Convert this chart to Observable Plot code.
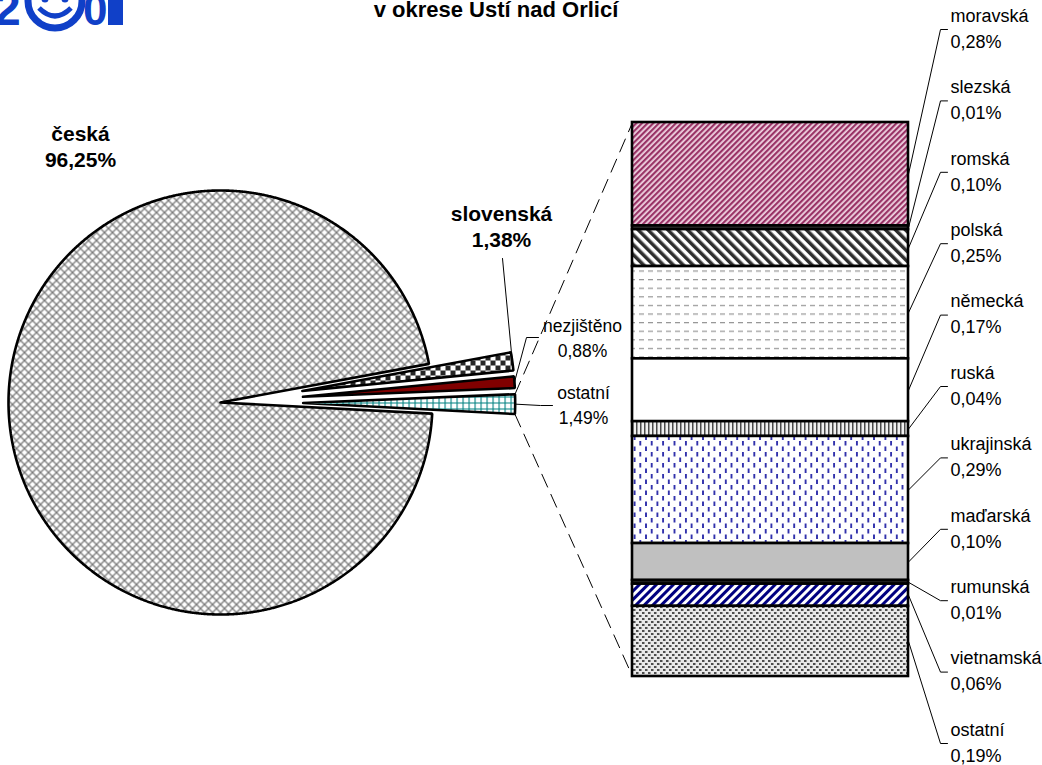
<!DOCTYPE html>
<html><head><meta charset="utf-8">
<script src="https://cdn.jsdelivr.net/npm/d3@7"></script>
<script src="https://cdn.jsdelivr.net/npm/@observablehq/plot@0.6"></script>
<style>
html,body{margin:0;padding:0;background:#fff;}
#wrap{position:relative;width:1042px;height:765px;overflow:hidden;font-family:"Liberation Sans",Arial,sans-serif;}
#title{position:absolute;left:246px;width:500px;top:-3px;text-align:center;font:bold 22px/25px "Liberation Sans",Arial,sans-serif;color:#000;}
#logo{position:absolute;left:0;top:0;}
#chart{position:absolute;left:0;top:0;}
</style></head>
<body>
<div id="wrap">
  <div id="chart"></div>
  <div id="title">v okrese Ústí nad Orlicí</div>
  <svg id="logo" width="130" height="34">
    <text x="-6" y="25" font-family="Liberation Sans" font-weight="bold" font-size="48" fill="#1040c8">2</text>
    <circle cx="55" cy="1" r="27" fill="#fff" stroke="#1040c8" stroke-width="7"/>
    <circle cx="45" cy="-1" r="3.5" fill="#1040c8"/>
    <circle cx="65" cy="-1" r="3.5" fill="#1040c8"/>
    <path d="M39,8 Q55,24 71,8" fill="none" stroke="#1040c8" stroke-width="5"/>
    <text x="83" y="25" font-family="Liberation Sans" font-weight="bold" font-size="44" fill="#1040c8">0</text>
    <rect x="108" y="0" width="15" height="25" fill="#1040c8"/>
  </svg>
</div>
<script>
// ---- data ----
const pieNames = ["česká", "slovenská", "nezjištěno", "ostatní"];
const pieValues = [96.25, 1.38, 0.88, 1.49];
const barNames = ["moravská", "slezská", "romská", "polská", "německá", "ruská", "ukrajinská", "maďarská", "rumunská", "vietnamská", "ostatní"];
const barValues = [0.28, 0.01, 0.10, 0.25, 0.17, 0.04, 0.29, 0.10, 0.01, 0.06, 0.19];

// ---- styles ----
const pieFills = ["url(#p-ceska)", "url(#p-slov)", "#800000", "url(#p-ostpie)"];
const barFills = ["url(#p-morav)", "#3a3a3a", "url(#p-roms)", "url(#p-pols)", "#ffffff", "url(#p-rus)", "url(#p-ukr)", "#c0c0c0", "#2a2a2a", "url(#p-viet)", "url(#p-ostbar)"];

// ---- layout (pixels -> units of pie radius) ----
const W = 1042, H = 765, CX = 220, CY = 402, R = 212;
const ux = px => (px - CX) / R, uy = py => (CY - py) / R;
const fmt = v => v.toFixed(2).replace(".", ",") + "%";

// pie geometry
const startA = 93 * Math.PI / 180, explode = 0.39;
const arcs = d3.pie().sort(null).startAngle(startA).endAngle(startA + 2 * Math.PI)(pieValues);
const slices = arcs.map((a, i) => {
  const mid = (a.startAngle + a.endAngle) / 2;
  const e = i === 0 ? 0 : explode;
  return {i, name: pieNames[i], value: pieValues[i], a0: a.startAngle, a1: a.endAngle, mid,
          ox: e * Math.sin(mid), oy: e * Math.cos(mid)};
});
const rim = (s, a) => ({x: s.ox + Math.sin(a), y: s.oy + Math.cos(a)});
function slicePoly(s) {
  const n = Math.max(4, Math.ceil((s.a1 - s.a0) / 0.004));
  const pts = [{x: s.ox, y: s.oy}];
  for (let k = 0; k <= n; k++) pts.push(rim(s, s.a0 + (s.a1 - s.a0) * k / n));
  pts.push({x: s.ox, y: s.oy});
  return pts;
}

// bar geometry
const barX1 = ux(632), barX2 = ux(908), barTop = uy(122), barBottom = uy(676);
const k = (barTop - barBottom) / d3.sum(barValues);
const cum = d3.cumsum(barValues);
const segs = barNames.map((name, i) => ({
  name, value: barValues[i], fill: barFills[i],
  y1: barTop - (cum[i] - barValues[i]) * k, y2: barTop - cum[i] * k
}));

// right labels: evenly spread
const firstY = 29, lastY = 743;
segs.forEach((d, i) => {
  d.cornerY = uy(firstY + i * (lastY - firstY) / (segs.length - 1));
  d.midY = (d.y1 + d.y2) / 2;
});
const leaderRows = segs.flatMap((d, i) => [
  {g: i, x: barX2, y: d.midY},
  {g: i, x: ux(940), y: d.cornerY},
  {g: i, x: ux(947), y: d.cornerY}
]);

// connectors from ostatní slice to bar
const ost = slices[3];
const ostTop = rim(ost, ost.a0), ostBot = rim(ost, ost.a1);
const connRows = [
  {g: 0, ...ostTop}, {g: 0, x: barX1, y: barTop},
  {g: 1, ...ostBot}, {g: 1, x: barX1, y: barBottom}
];

// pie labels
const pieLabelRows = [
  {text: pieNames[0] + "\n" + fmt(pieValues[0]), x: ux(80), y: uy(145), bold: true},
  {text: pieNames[1] + "\n" + fmt(pieValues[1]), x: ux(501), y: uy(225), bold: true},
  {text: pieNames[2] + "\n" + fmt(pieValues[2]), x: ux(582), y: uy(336), bold: false},
  {text: pieNames[3] + "\n" + fmt(pieValues[3]), x: ux(583), y: uy(403), bold: false}
];
const midOf = s => rim(s, s.mid);
const pieLeaders = [
  {g: 1, x: ux(502), y: uy(258)}, {g: 1, ...midOf(slices[1])},
  {g: 2, x: ux(538), y: uy(337)}, {g: 2, x: ux(526), y: uy(337)}, {g: 2, ...midOf(slices[2])},
  {g: 3, ...midOf(slices[3])}, {g: 3, x: ux(540), y: uy(405)}, {g: 3, x: ux(552), y: uy(405)}
];

const chart = Plot.plot({
  width: W, height: H, margin: 0,
  x: {domain: [ux(0), ux(W)], axis: null},
  y: {domain: [uy(H), uy(0)], axis: null},
  color: {type: "identity"},
  style: {fontFamily: "Liberation Sans, Arial, sans-serif", background: "transparent", overflow: "visible"},
  marks: [
    ...slices.map(s => Plot.line(slicePoly(s), {x: "x", y: "y", fill: pieFills[s.i], stroke: "#000", strokeWidth: 2.6, strokeLinejoin: "miter"})),
    Plot.line(connRows, {x: "x", y: "y", z: "g", stroke: "#000", strokeWidth: 1, strokeDasharray: "14,8"}),
    Plot.rect(segs, {x1: barX1, x2: barX2, y1: "y1", y2: "y2", fill: "fill", stroke: "#000", strokeWidth: 2.6}),
    Plot.line(leaderRows, {x: "x", y: "y", z: "g", stroke: "#000", strokeWidth: 1}),
    Plot.line(pieLeaders, {x: "x", y: "y", z: "g", stroke: "#000", strokeWidth: 1}),
    Plot.text(segs, {x: ux(950), y: "cornerY", dy: -3, text: d => d.name + "\n" + fmt(d.value),
      textAnchor: "start", lineAnchor: "middle", fontSize: 18, lineHeight: 1.45, fill: "#000"}),
    Plot.text(pieLabelRows.filter(d => d.bold), {x: "x", y: "y", text: "text", fontSize: 21, fontWeight: "bold",
      lineAnchor: "middle", lineHeight: 1.26, fill: "#000"}),
    Plot.text(pieLabelRows.filter(d => !d.bold), {x: "x", y: "y", text: "text", fontSize: 17.5,
      lineAnchor: "middle", lineHeight: 1.43, fill: "#000"})
  ]
});
document.getElementById("chart").appendChild(chart);

// patterns
const defs = d3.select(chart).insert("defs", ":first-child");
function pat(id, w, h, build, transform) {
  const p = defs.append("pattern").attr("id", id).attr("patternUnits", "userSpaceOnUse")
    .attr("width", w).attr("height", h);
  if (transform) p.attr("patternTransform", transform);
  build(p);
}
pat("p-ceska", 8, 8, p => {
  p.append("rect").attr("width", 8).attr("height", 8).attr("fill", "#fff");
  p.append("path").attr("d", "M-1,-1L9,9M9,-1L-1,9").attr("stroke", "#7a7a7a").attr("stroke-width", 1.3);
});
pat("p-slov", 10, 10, p => {
  p.append("rect").attr("width", 10).attr("height", 10).attr("fill", "#fff");
  p.append("rect").attr("width", 5).attr("height", 5).attr("fill", "#262626");
  p.append("rect").attr("x", 5).attr("y", 5).attr("width", 5).attr("height", 5).attr("fill", "#262626");
});
pat("p-ostpie", 6, 6, p => {
  p.append("rect").attr("width", 6).attr("height", 6).attr("fill", "#fff");
  p.append("path").attr("d", "M0,0.5H6M0.5,0V6").attr("stroke", "#008080").attr("stroke-width", 1.2);
});
pat("p-morav", 4, 4, p => {
  p.append("rect").attr("width", 4).attr("height", 4).attr("fill", "#f0d4e2");
  p.append("rect").attr("width", 2.2).attr("height", 4).attr("fill", "#993366");
}, "rotate(45)");
pat("p-roms", 7, 7, p => {
  p.append("rect").attr("width", 7).attr("height", 7).attr("fill", "#fff");
  p.append("rect").attr("width", 3.5).attr("height", 7).attr("fill", "#2e2e2e");
}, "rotate(-45)");
pat("p-pols", 9, 8.6, p => {
  p.append("rect").attr("width", 9).attr("height", 8.6).attr("fill", "#fff");
  p.append("path").attr("d", "M0,4.5H5").attr("stroke", "#808080").attr("stroke-width", 1);
});
pat("p-rus", 4, 4, p => {
  p.append("rect").attr("width", 4).attr("height", 4).attr("fill", "#f0f0f0");
  p.append("rect").attr("width", 1.5).attr("height", 4).attr("fill", "#4a4a4a");
});
pat("p-ukr", 11.4, 11, p => {
  p.append("rect").attr("width", 11.4).attr("height", 11).attr("fill", "#fff");
  p.append("rect").attr("x", 1).attr("y", 1).attr("width", 1.8).attr("height", 4.5).attr("fill", "#2828a8");
  p.append("rect").attr("x", 6.7).attr("y", 6.5).attr("width", 1.8).attr("height", 4.5).attr("fill", "#2828a8");
});
pat("p-viet", 6, 6, p => {
  p.append("rect").attr("width", 6).attr("height", 6).attr("fill", "#fff");
  p.append("rect").attr("width", 3).attr("height", 6).attr("fill", "#000080");
}, "rotate(45)");
pat("p-ostbar", 6, 6, p => {
  p.append("rect").attr("width", 6).attr("height", 6).attr("fill", "#e8e8e8");
  p.append("rect").attr("width", 2.5).attr("height", 2).attr("fill", "#4d4d4d");
  p.append("rect").attr("x", 3).attr("y", 3).attr("width", 2.5).attr("height", 2).attr("fill", "#4d4d4d");
});
</script>
</body></html>
